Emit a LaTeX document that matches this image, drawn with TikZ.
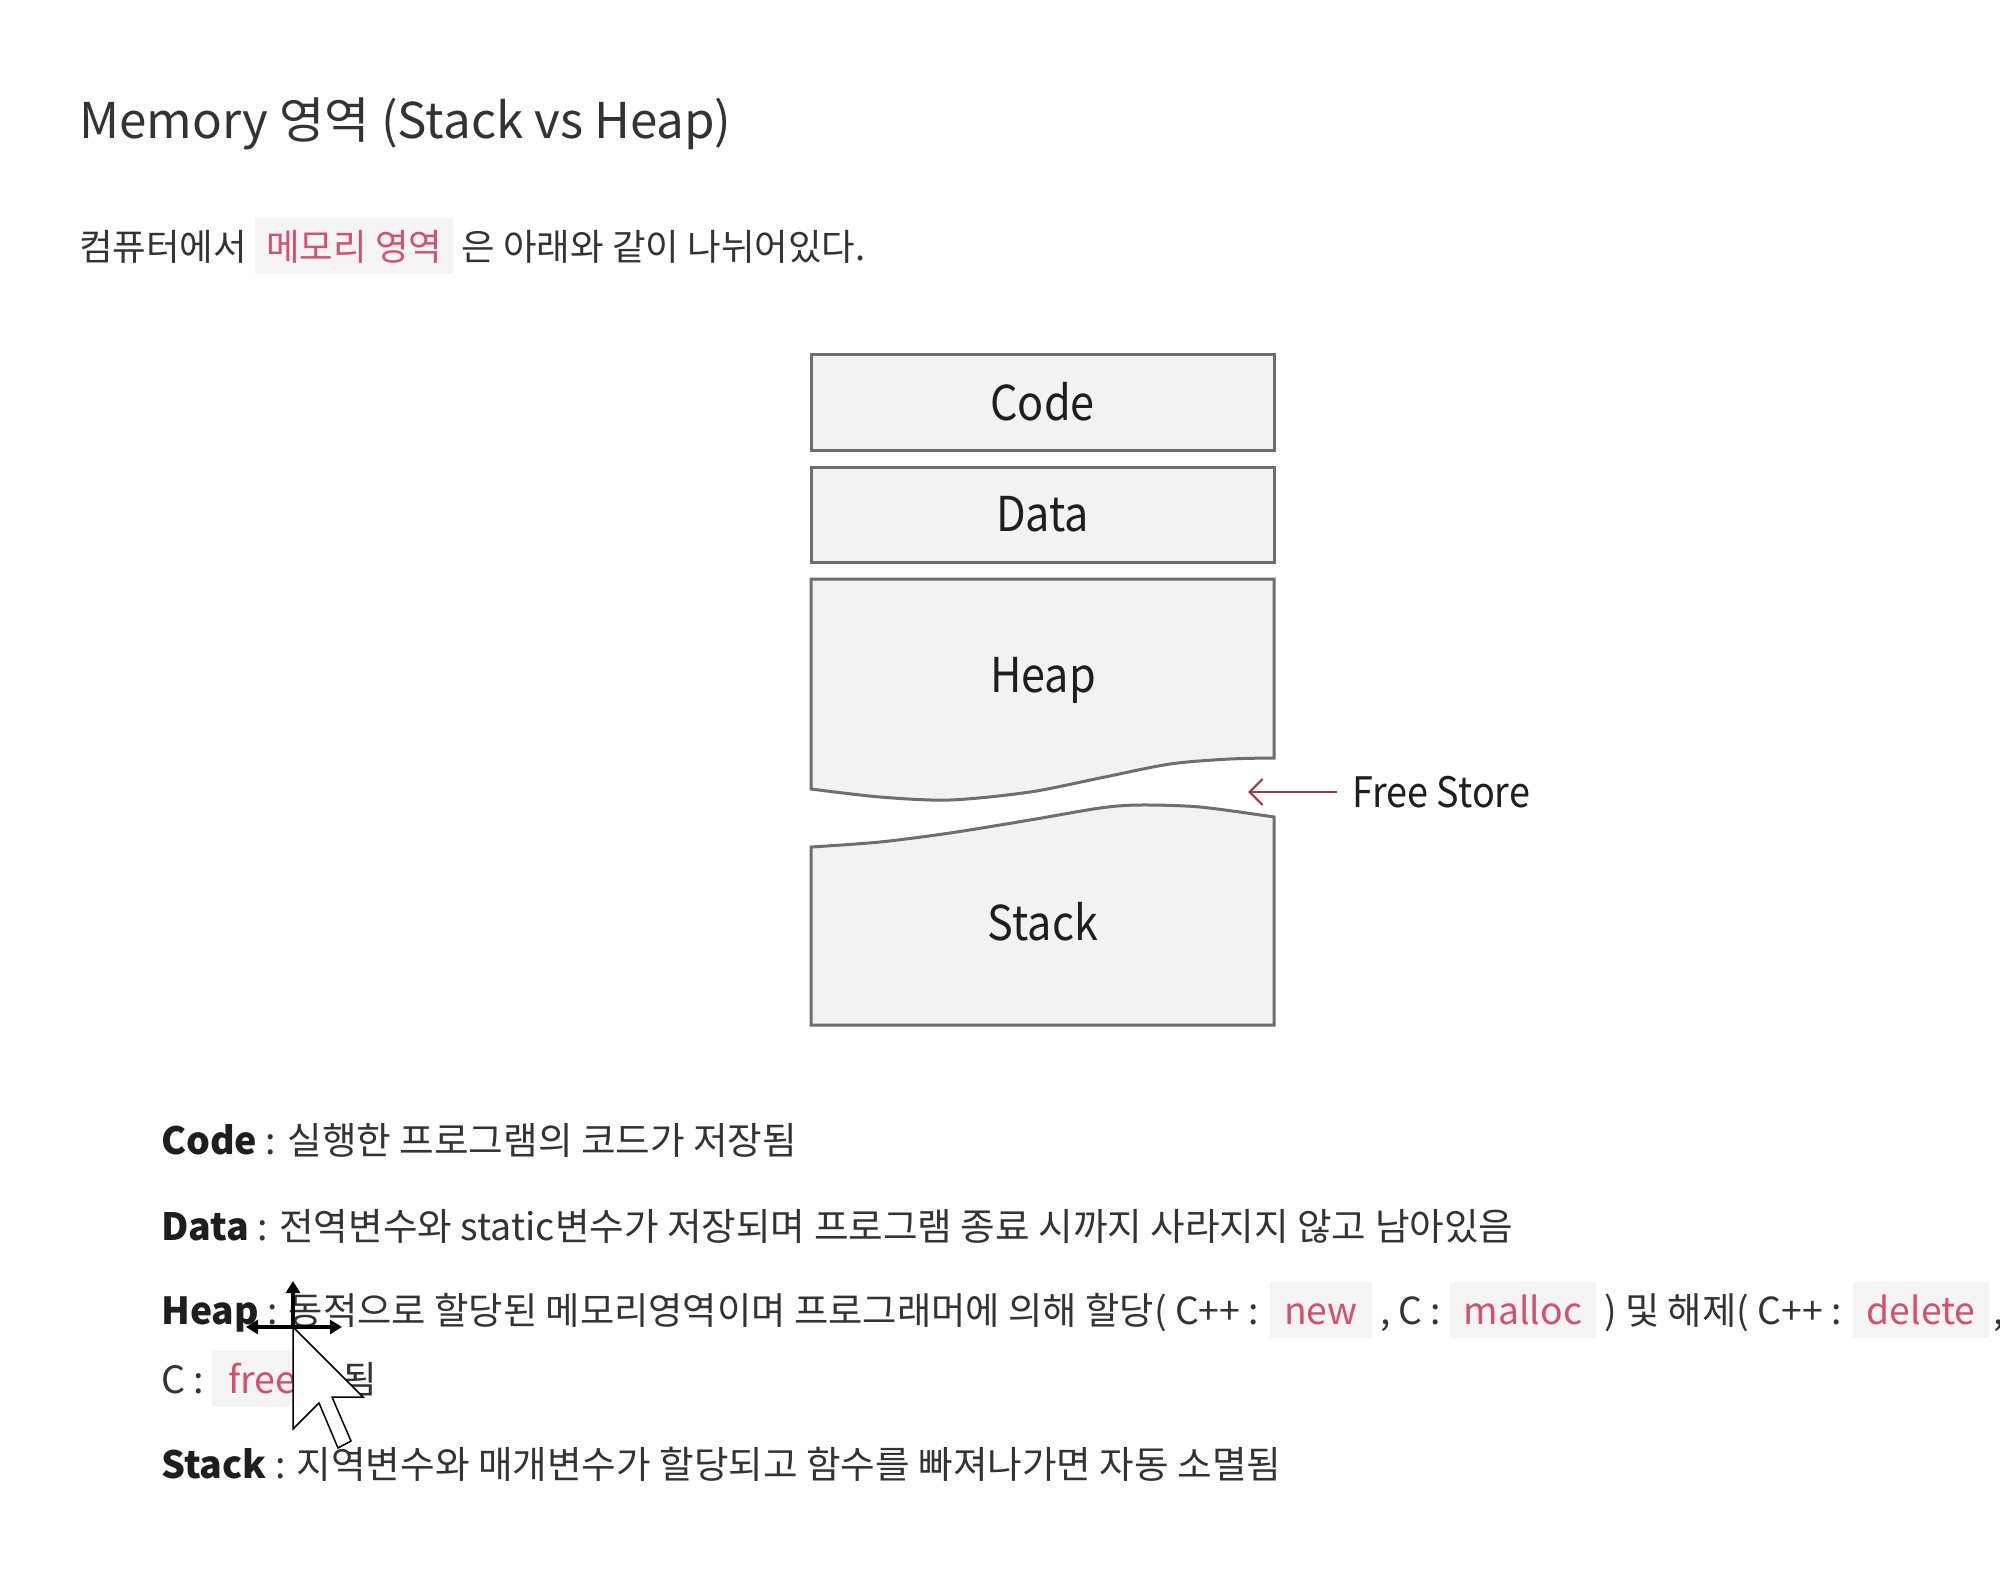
\documentclass[tikz,border=0pt]{standalone}
\usepackage{fontspec}
\setmainfont{Noto Sans CJK KR}
\newfontfamily\narrowfont[FakeStretch=0.9]{Noto Sans CJK KR}
\usetikzlibrary{arrows.meta}
\definecolor{boxfill}{HTML}{F2F2F2}
\definecolor{boxline}{HTML}{6E6E6E}
\definecolor{txt}{HTML}{333333}
\definecolor{lbl}{HTML}{1E1E1E}
\definecolor{pinktxt}{HTML}{D4506F}
\definecolor{hlbg}{HTML}{F4F4F4}
\definecolor{arrowred}{HTML}{9E3A4E}
\newcommand{\hlc}[2][14pt]{{\setlength{\fboxsep}{0pt}\colorbox{hlbg}{\rule[-14pt]{0pt}{56pt}\hspace{#1}\textcolor{pinktxt}{#2}\hspace{#1}}}}
\newcommand{\lb}[1]{\textcolor{lbl}{\textbf{#1}}}
\begin{document}
\begin{tikzpicture}[x=1pt,y=-1pt,
  shapebox/.style={draw=boxline, fill=boxfill, line width=3pt, line join=miter},
  segbox/.style={shapebox, rectangle, minimum width=463pt, minimum height=96pt, inner sep=0pt},
  lab/.style={font=\narrowfont\fontsize{48}{56}\selectfont, text=lbl, inner sep=0pt},
  body/.style={anchor=base west, inner sep=0pt, text=txt, font=\fontsize{37.6}{44}\selectfont},
  arr/.style={draw=arrowred, line width=2.2pt, -{Straight Barb[length=13pt,width=26pt]}}]
\useasboundingbox (0,0) rectangle (2000,1591);
\fill[white] (0,0) rectangle (2000,1591);

% title and intro
\node[anchor=base west, inner sep=0pt, text=txt, font=\fontsize{49.3}{58}\selectfont] (title) at (79,138) {Memory 영역 (Stack vs Heap)};
\node[body, font=\fontsize{36.5}{44}\selectfont] (intro) at (79,260) {컴퓨터에서 \hlc[11pt]{메모리 영역} 은 아래와 같이 나뉘어있다.};

% memory segments
\node[segbox] (code) at (1042.5,402) {};
\node[lab] (codel) at (code.center) {Code};
\node[segbox, minimum height=95pt] (data) at (1042.5,514.5) {};
\node[lab] (datal) at (data.center) {Data};

\draw[shapebox] (811,579) -- (811,789) -- plot[smooth] coordinates {(811,789) (880,797) (950,800) (1030,792) (1100,778) (1170,764) (1230,759) (1274,758)} -- (1274,579) -- cycle;
\node[lab] (heapl) at (1043,680) {Heap};

\draw[shapebox] (811,1025) -- (811,847) -- plot[smooth] coordinates {(811,847) (880,842) (950,833) (1030,820) (1100,808) (1140,805) (1200,807) (1274,817)} -- (1274,1025) -- cycle;
\node[lab] (stackl) at (1043,922) {Stack};

% free store
\node[anchor=west, inner sep=0pt, text=lbl, font=\narrowfont\fontsize{42}{50}\selectfont] (fs) at (1352,792) {Free Store};
\coordinate (tip) at (1248,792);
\draw[arr] ([xshift=-15pt]fs.west) -- (tip);

% descriptions
\node[body] (dcode) at (161,1154) {\lb{Code} : 실행한 프로그램의 코드가 저장됨};
\node[body] (ddata) at (161,1240) {\lb{Data} : 전역변수와 static변수가 저장되며 프로그램 종료 시까지 사라지지 않고 남아있음};
\node[body, font=\fontsize{37.3}{44}\selectfont] (dheap) at (161,1324) {\lb{Heap} : 동적으로 할당된 메모리영역이며 프로그래머에 의해 할당( C++ : \hlc{new} , C : \hlc{malloc} ) 및 해제( C++ : \hlc{delete}\hspace{4pt},};
\node[body] (dheap2) at (161,1393) {C : \hlc[16pt]{free} ) 됨};
\node[body] (dstack) at (161,1478) {\lb{Stack} : 지역변수와 매개변수가 할당되고 함수를 빠져나가면 자동 소멸됨};

% mouse cursor
\coordinate (mc) at (293,1327);
\draw[line width=3.5pt, -{Triangle[length=12pt,width=14pt]}] (mc) -- ++(0,-46);
\draw[line width=3.5pt, -{Triangle[length=12pt,width=14pt]}] (mc) -- ++(-47,0);
\draw[line width=3.5pt, -{Triangle[length=12pt,width=14pt]}] (mc) -- ++(49,0);
\draw[fill=white, line width=1.5pt, line join=miter] (mc) -- ++(0,102) -- ++(26,-26) -- ++(19,45) -- ++(13,-7) -- ++(-19,-44) -- ++(31,0) -- cycle;
\end{tikzpicture}
\end{document}
